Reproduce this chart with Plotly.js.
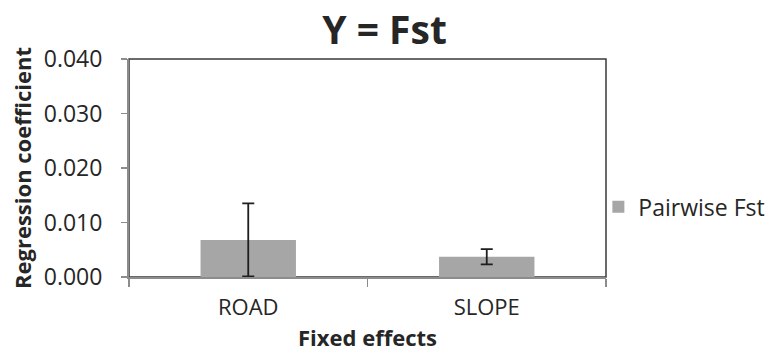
<!DOCTYPE html>
<html>
<head>
<meta charset="utf-8">
<script src="https://cdn.plot.ly/plotly-3.0.1.min.js"></script>
<style>
  html, body { margin: 0; padding: 0; background: #fff; }
  #chart { width: 769px; height: 354px; }
</style>
</head>
<body>
<div id="chart"></div>
<script>
// Fixed effects and their regression coefficients on pairwise Fst
const categories = ['ROAD', 'SLOPE'];
const coefficients = [0.0068, 0.0037];
const errors = [0.0067, 0.0014];
const yTickValues = [0, 0.01, 0.02, 0.03, 0.04];

const FONT = '"Open Sans", "Liberation Sans", sans-serif';
const TEXT = '#262626';

const trace = {
  type: 'bar',
  name: 'Pairwise Fst',
  x: categories,
  y: coefficients,
  width: 0.4,
  marker: { color: '#a6a6a6', line: { width: 0 } },
  error_y: {
    type: 'data',
    array: errors,
    visible: true,
    color: '#1e1e1e',
    thickness: 1.8,
    width: 6
  },
  showlegend: true
};

const layout = {
  width: 769,
  height: 354,
  margin: { l: 129, r: 163, t: 59, b: 77, autoexpand: false },
  paper_bgcolor: '#ffffff',
  plot_bgcolor: '#ffffff',
  font: { family: FONT, color: TEXT },
  title: {
    text: '<b>Y = Fst</b>',
    font: { family: FONT, size: 39, color: TEXT },
    x: 0.5, xref: 'container', xanchor: 'center',
    y: 0.915, yref: 'container', yanchor: 'middle'
  },
  showlegend: true,
  legend: {
    x: 0.984, xanchor: 'left',
    y: 0.322, yanchor: 'middle',
    font: { family: FONT, size: 23, color: TEXT },
    bgcolor: 'rgba(0,0,0,0)',
    itemclick: false
  },
  xaxis: {
    type: 'category',
    showgrid: false,
    zeroline: false,
    showline: true,
    linecolor: '#8c8c8c',
    linewidth: 2,
    ticks: 'outside',
    tickson: 'boundaries',
    ticklen: 8,
    tickwidth: 1.5,
    tickcolor: '#8c8c8c',
    ticklabelstandoff: 10,
    tickfont: { family: FONT, size: 22, color: TEXT },
    title: {
      text: '<b>Fixed effects</b>',
      font: { family: FONT, size: 22, color: TEXT },
      standoff: 10
    }
  },
  yaxis: {
    range: [0, 0.04],
    tickvals: yTickValues,
    tickformat: '.3f',
    showgrid: false,
    zeroline: false,
    showline: true,
    linecolor: '#8c8c8c',
    linewidth: 2,
    ticks: 'outside',
    ticklen: 6,
    tickwidth: 1.5,
    tickcolor: '#8c8c8c',
    ticklabelstandoff: 14,
    tickfont: { family: FONT, size: 23, color: TEXT },
    title: {
      text: '<b>Regression coefficient</b>',
      font: { family: FONT, size: 22, color: TEXT },
      standoff: 6
    }
  },
  shapes: [{
    type: 'rect', xref: 'paper', yref: 'paper',
    x0: 0, x1: 1, y0: 0, y1: 1,
    line: { color: '#3a3a3a', width: 1.5 },
    layer: 'below'
  }]
};

Plotly.newPlot('chart', [trace], layout, { staticPlot: true, displayModeBar: false });
</script>
</body>
</html>
